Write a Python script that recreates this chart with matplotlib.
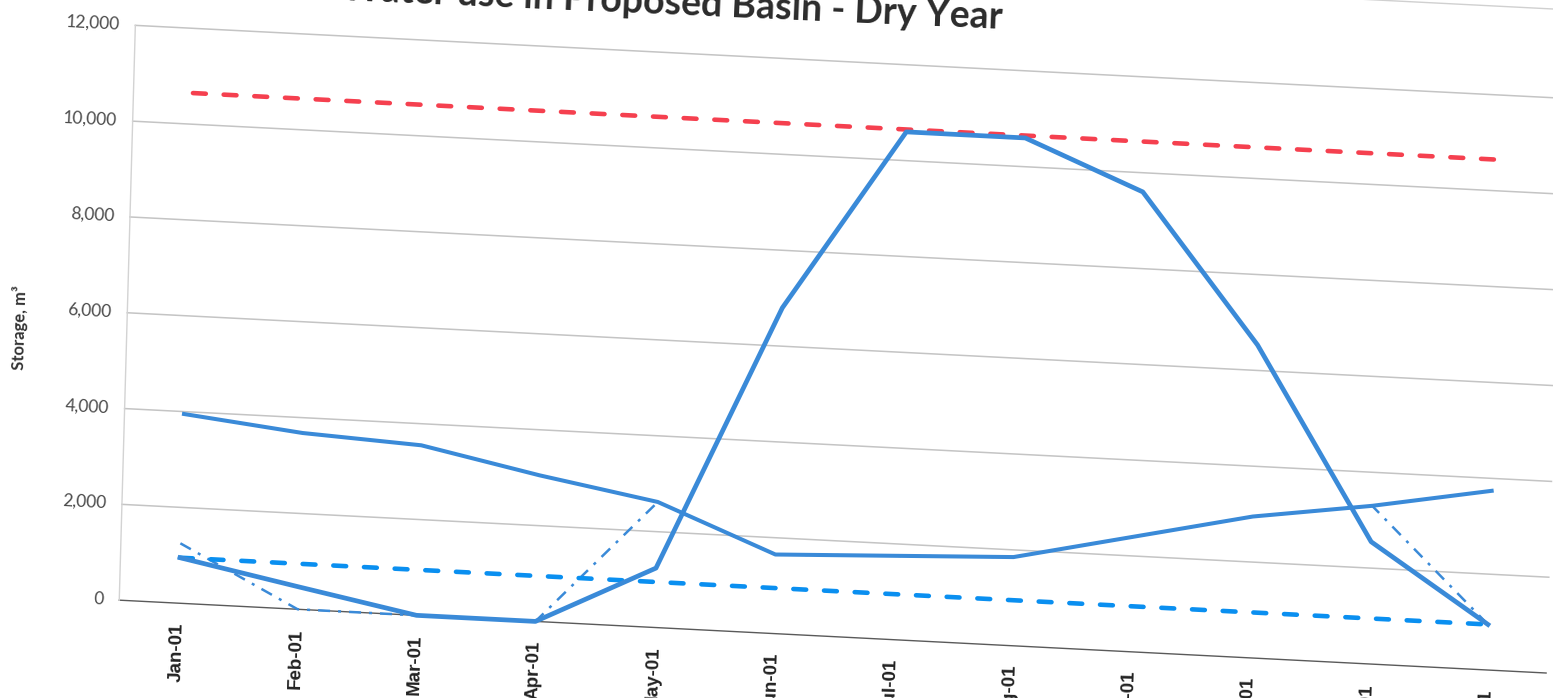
import matplotlib
matplotlib.use("Agg")
import matplotlib.pyplot as plt
import matplotlib.transforms as mtransforms
import numpy as np

# ---- data -------------------------------------------------------------
months = ["Jan-01", "Feb-01", "Mar-01", "Apr-01", "May-01", "Jun-01",
          "Jul-01", "Aug-01", "Sep-01", "Oct-01", "Nov-01", "Dec-01"]

# basin storage (m3), main operating curve
storage_main = [950, 470, 0, 0, 1240, 6800, 10600, 10600, 9600, 6530, 2550, 950]
# alternative storage curve
storage_alt = [3950, 3680, 3550, 3050, 2620, 1650, 1750, 1850, 2400, 2950, 3300, 3740]
# dash-dot scenario
storage_scen = [1250, 0, 0, 0, 2620, 1650, 1750, 1850, 2400, 2950, 3300, 950]
# minimum and maximum storage levels
storage_min = [950, 950, 950, 950, 950, 950, 950, 950, 950, 950, 950, 950]
storage_max = [10650, 10650, 10650, 10650, 10650, 10650,
               10650, 10650, 10650, 10650, 10650, 10650]

y_ticks = [0, 2000, 4000, 6000, 8000, 10000, 12000]
y_tick_labels = ["0", "2,000", "4,000", "6,000", "8,000", "10,000", "12,000"]

title = "Water use in Proposed Basin - Dry Year"
y_title = "Storage, m\u00b3"

# ---- figure -----------------------------------------------------------
W, H = 1553, 698
fig = plt.figure(figsize=(W / 100, H / 100), dpi=100)
fig.patch.set_facecolor("white")

x0_px, x1_px = 119.25, 1546.1
y0_px, y1_px = 94.8, 669.6
ax = fig.add_axes([x0_px / W, y0_px / H, (x1_px - x0_px) / W, (y1_px - y0_px) / H])
ax.set_xlim(-0.5, 11.5)
ax.set_ylim(0, 12000)
ax.axis("off")

# the printed sheet sits slightly askew: shear the whole plot in display space
slope = 0.05105   # horizontal lines fall to the right
lean = 0.028      # vertical lines lean to the right going up
xr, yr = 178.7, y0_px
skew = mtransforms.Affine2D(np.array([[1.0, lean, -lean * yr],
                                      [-slope, 1.0, slope * xr],
                                      [0.0, 0.0, 1.0]]))
T = ax.transData + skew
ang_h = -np.degrees(np.arctan(slope))
ang_v = 90 - np.degrees(np.arctan(lean))

x = np.arange(len(months))

# gridlines and axes
for v in y_ticks[1:]:
    ax.plot([-0.5, 11.5], [v, v], transform=T, color="#c4c4c4", lw=1.1,
            clip_on=False, zorder=1)
ax.plot([-0.5, 11.5], [13850, 13850], transform=T, color="#d0d0d0", lw=1.0,
        clip_on=False, zorder=1)
ax.plot([-0.5, 11.5], [0, 0], transform=T, color="#5a5a5a", lw=1.0,
        clip_on=False, zorder=1)
ax.plot([-0.5, -0.5], [0, 12000], transform=T, color="#d3d3d3", lw=1.0,
        clip_on=False, zorder=1)

blue = "#3a8ad8"

ax.plot(x, storage_scen, transform=T, color=blue, lw=1.8,
        linestyle=(0, (4.8, 3.2, 1.2, 3.2)), clip_on=False, zorder=2)
ax.plot(x, storage_min, transform=T, color="#0a8ff0", lw=3.3,
        linestyle=(0, (2.8, 3.9)), dash_capstyle="round", clip_on=False, zorder=3)
ax.plot(x, storage_max, transform=T, color="#f5404f", lw=3.3,
        linestyle=(0, (2.8, 3.9)), dash_capstyle="round", clip_on=False, zorder=3)
ax.plot(x, storage_alt, transform=T, color=blue, lw=2.9, solid_joinstyle="round",
        clip_on=False, zorder=4)
ax.plot(x, storage_main, transform=T, color=blue, lw=3.4, solid_joinstyle="round",
        clip_on=False, zorder=5)

# tick labels
ytrans = mtransforms.offset_copy(T, fig=fig, x=-16, y=1, units="dots")
for v, lab in zip(y_ticks, y_tick_labels):
    ax.text(-0.5, v, lab, transform=ytrans, ha="right", va="center",
            rotation=ang_h, rotation_mode="anchor", fontsize=12.5,
            family=["Lato", "DejaVu Sans"], color="#4a4a4a", clip_on=False)

for i, lab in zip(x, months):
    ax.text(i, -400, lab, transform=T, ha="right", va="center",
            rotation=ang_v, rotation_mode="anchor", fontsize=13.5,
            fontweight="bold", family=["Liberation Sans", "DejaVu Sans"],
            color="#222222", clip_on=False)

ident = mtransforms.IdentityTransform()
fig.text(20, H - 328, y_title, transform=ident, ha="center", va="center",
         rotation=ang_v, rotation_mode="anchor", fontsize=12, fontweight="bold",
         family=["Lato", "DejaVu Sans"], color="#333333")
fig.text(1002, H - 29, title, transform=ident, ha="right", va="baseline",
         rotation=-2.5, rotation_mode="anchor", fontsize=27, fontweight="bold",
         family=["Lato", "DejaVu Sans"], color="#2b2b2b")

fig.savefig("out.png", dpi=100, facecolor="white")
